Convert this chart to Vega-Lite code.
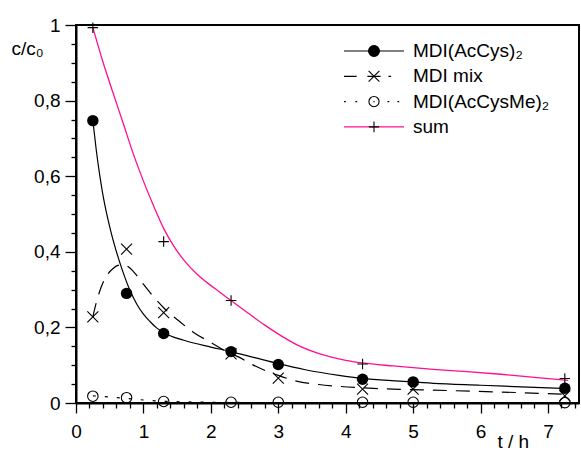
{
  "$schema": "https://vega.github.io/schema/vega-lite/v6.json",
  "width": 503,
  "height": 378,
  "autosize": {"type": "none"},
  "padding": {"left": 76, "top": 25, "right": 2, "bottom": 48},
  "background": "white",
  "config": {
    "view": {"stroke": "black", "strokeWidth": 2},
    "font": "Liberation Sans",
    "axis": {
      "domainColor": "black", "domainWidth": 2,
      "tickColor": "black", "tickWidth": 1.3,
      "labelFont": "Liberation Sans", "labelFontSize": 19, "labelColor": "black",
      "titleFont": "Liberation Sans", "titleFontSize": 19, "titleFontWeight": "normal", "titleColor": "black",
      "grid": false, "labelOverlap": false, "labelFlush": false
    },
    "legend": {
      "orient": "none", "legendX": 267, "legendY": 15,
      "symbolSize": 3600, "clipHeight": 22, "rowPadding": 3.3,
      "labelOffset": 8, "labelFont": "Liberation Sans", "labelFontSize": 19, "labelColor": "black",
      "padding": 0, "symbolStrokeWidth": 1.2, "labelLimit": 300
    }
  },
  "datasets": {
    "pts": [
      {"s": "A", "t": 0.25, "c": 0.747}, {"s": "A", "t": 0.75, "c": 0.290}, {"s": "A", "t": 1.3, "c": 0.184}, {"s": "A", "t": 2.3, "c": 0.136},
      {"s": "A", "t": 3.0, "c": 0.102}, {"s": "A", "t": 4.25, "c": 0.063}, {"s": "A", "t": 5.0, "c": 0.056}, {"s": "A", "t": 7.25, "c": 0.039},
      {"s": "M", "t": 0.25, "c": 0.228}, {"s": "M", "t": 0.75, "c": 0.407}, {"s": "M", "t": 1.3, "c": 0.239}, {"s": "M", "t": 2.3, "c": 0.130},
      {"s": "M", "t": 3.0, "c": 0.066}, {"s": "M", "t": 4.25, "c": 0.037}, {"s": "M", "t": 5.0, "c": 0.037}, {"s": "M", "t": 7.25, "c": 0.019},
      {"s": "E", "t": 0.25, "c": 0.018}, {"s": "E", "t": 0.75, "c": 0.014}, {"s": "E", "t": 1.3, "c": 0.004}, {"s": "E", "t": 2.3, "c": 0.002},
      {"s": "E", "t": 3.0, "c": 0.002}, {"s": "E", "t": 4.25, "c": 0.002}, {"s": "E", "t": 5.0, "c": 0.002}, {"s": "E", "t": 7.25, "c": 0.001},
      {"s": "S", "t": 0.25, "c": 0.993}, {"s": "S", "t": 1.3, "c": 0.427}, {"s": "S", "t": 2.3, "c": 0.271}, {"s": "S", "t": 4.25, "c": 0.103},
      {"s": "S", "t": 7.25, "c": 0.065}
    ],
    "fit": [
      {"s": "A", "t": 0.25, "c": 0.747}, {"s": "A", "t": 0.3, "c": 0.67}, {"s": "A", "t": 0.35, "c": 0.605}, {"s": "A", "t": 0.4, "c": 0.55},
      {"s": "A", "t": 0.5, "c": 0.466}, {"s": "A", "t": 0.6, "c": 0.40}, {"s": "A", "t": 0.7, "c": 0.345}, {"s": "A", "t": 0.8, "c": 0.298},
      {"s": "A", "t": 0.9, "c": 0.262}, {"s": "A", "t": 1.0, "c": 0.235}, {"s": "A", "t": 1.1, "c": 0.215}, {"s": "A", "t": 1.2, "c": 0.198},
      {"s": "A", "t": 1.3, "c": 0.186}, {"s": "A", "t": 1.6, "c": 0.166}, {"s": "A", "t": 2.0, "c": 0.148}, {"s": "A", "t": 2.3, "c": 0.136},
      {"s": "A", "t": 2.65, "c": 0.120}, {"s": "A", "t": 3.0, "c": 0.104}, {"s": "A", "t": 3.4, "c": 0.088}, {"s": "A", "t": 3.9, "c": 0.073},
      {"s": "A", "t": 4.25, "c": 0.065}, {"s": "A", "t": 4.8, "c": 0.058}, {"s": "A", "t": 5.3, "c": 0.052}, {"s": "A", "t": 6.0, "c": 0.047},
      {"s": "A", "t": 6.7, "c": 0.042}, {"s": "A", "t": 7.3, "c": 0.038},
      {"s": "M", "t": 0.25, "c": 0.228}, {"s": "M", "t": 0.3, "c": 0.265}, {"s": "M", "t": 0.35, "c": 0.295}, {"s": "M", "t": 0.4, "c": 0.318},
      {"s": "M", "t": 0.48, "c": 0.343}, {"s": "M", "t": 0.55, "c": 0.356}, {"s": "M", "t": 0.62, "c": 0.364}, {"s": "M", "t": 0.7, "c": 0.366},
      {"s": "M", "t": 0.78, "c": 0.360}, {"s": "M", "t": 0.875, "c": 0.343}, {"s": "M", "t": 1.0, "c": 0.314}, {"s": "M", "t": 1.15, "c": 0.281},
      {"s": "M", "t": 1.3, "c": 0.252}, {"s": "M", "t": 1.54, "c": 0.215}, {"s": "M", "t": 1.75, "c": 0.186}, {"s": "M", "t": 2.0, "c": 0.160},
      {"s": "M", "t": 2.2, "c": 0.139}, {"s": "M", "t": 2.43, "c": 0.120}, {"s": "M", "t": 2.6, "c": 0.103}, {"s": "M", "t": 2.78, "c": 0.088},
      {"s": "M", "t": 3.0, "c": 0.073}, {"s": "M", "t": 3.27, "c": 0.058}, {"s": "M", "t": 3.6, "c": 0.049}, {"s": "M", "t": 3.9, "c": 0.044},
      {"s": "M", "t": 4.25, "c": 0.040}, {"s": "M", "t": 4.8, "c": 0.036}, {"s": "M", "t": 5.3, "c": 0.034}, {"s": "M", "t": 6.3, "c": 0.029},
      {"s": "M", "t": 7.3, "c": 0.023},
      {"s": "E", "t": 0.25, "c": 0.019}, {"s": "E", "t": 0.5, "c": 0.016}, {"s": "E", "t": 0.75, "c": 0.012}, {"s": "E", "t": 1.0, "c": 0.008},
      {"s": "E", "t": 1.25, "c": 0.005}, {"s": "E", "t": 1.6, "c": 0.003}, {"s": "E", "t": 2.0, "c": 0.002}, {"s": "E", "t": 3.0, "c": 0.001},
      {"s": "E", "t": 4.0, "c": 0.0005}, {"s": "E", "t": 5.0, "c": 0.0003}, {"s": "E", "t": 7.3, "c": 0.0},
      {"s": "S", "t": 0.25, "c": 0.993}, {"s": "S", "t": 0.4, "c": 0.902}, {"s": "S", "t": 0.55, "c": 0.82}, {"s": "S", "t": 0.7, "c": 0.74},
      {"s": "S", "t": 0.85, "c": 0.659}, {"s": "S", "t": 1.0, "c": 0.587}, {"s": "S", "t": 1.15, "c": 0.522}, {"s": "S", "t": 1.3, "c": 0.462},
      {"s": "S", "t": 1.45, "c": 0.415}, {"s": "S", "t": 1.6, "c": 0.378}, {"s": "S", "t": 1.8, "c": 0.340}, {"s": "S", "t": 2.05, "c": 0.304},
      {"s": "S", "t": 2.3, "c": 0.271}, {"s": "S", "t": 2.55, "c": 0.238}, {"s": "S", "t": 2.8, "c": 0.206}, {"s": "S", "t": 3.05, "c": 0.177},
      {"s": "S", "t": 3.3, "c": 0.152}, {"s": "S", "t": 3.55, "c": 0.134}, {"s": "S", "t": 3.8, "c": 0.121}, {"s": "S", "t": 4.0, "c": 0.113},
      {"s": "S", "t": 4.25, "c": 0.106}, {"s": "S", "t": 4.7, "c": 0.098}, {"s": "S", "t": 5.3, "c": 0.089}, {"s": "S", "t": 5.8, "c": 0.083},
      {"s": "S", "t": 6.3, "c": 0.076}, {"s": "S", "t": 6.8, "c": 0.068}, {"s": "S", "t": 7.3, "c": 0.060}
    ]
  },
  "encoding": {
    "x": {
      "field": "t", "type": "quantitative",
      "scale": {"domain": [0, 7.46], "nice": false, "zero": false},
      "axis": {
        "title": "t / h", "titleAngle": 0, "titleAlign": "left", "titleBaseline": "alphabetic", "titleX": 421, "titleY": 44,
        "values": [0,0.2,0.4,0.6,0.8,1,1.2,1.4,1.6,1.8,2,2.2,2.4,2.6,2.8,3,3.2,3.4,3.6,3.8,4,4.2,4.4,4.6,4.8,5,5.2,5.4,5.6,5.8,6,6.2,6.4,6.6,6.8,7,7.2,7.4],
        "labelExpr": "abs(datum.value-round(datum.value))<0.001 ? format(datum.value,'d') : ''",
        "tickSize": {"condition": {"test": "abs(datum.value-round(datum.value))<0.001", "value": 10}, "value": 5},
        "labelPadding": 9
      }
    },
    "y": {
      "field": "c", "type": "quantitative",
      "scale": {"domain": [0, 1], "nice": false},
      "axis": {
        "title": "c/c₀", "titleAngle": 0, "titleAlign": "left", "titleBaseline": "alphabetic", "titleX": -65, "titleY": 29,
        "values": [0,0.05,0.1,0.15,0.2,0.25,0.3,0.35,0.4,0.45,0.5,0.55,0.6,0.65,0.7,0.75,0.8,0.85,0.9,0.95,1],
        "labelExpr": "abs(datum.value*5-round(datum.value*5))<0.001 ? replace(format(datum.value,'~g'),'.',',') : ''",
        "tickSize": {"condition": {"test": "abs(datum.value*5-round(datum.value*5))<0.001", "value": 11}, "value": 5},
        "labelPadding": 5
      }
    }
  },
  "layer": [
    {"data": {"name": "fit"}, "transform": [{"filter": "datum.s == 'E'"}],
     "mark": {"type": "line", "color": "black", "strokeWidth": 1.2, "strokeDash": [3, 9], "interpolate": "monotone"}},
    {"data": {"name": "fit"}, "transform": [{"filter": "datum.s == 'M'"}],
     "mark": {"type": "line", "color": "black", "strokeWidth": 1.2, "strokeDash": [14, 9], "interpolate": "monotone"}},
    {"data": {"name": "fit"}, "transform": [{"filter": "datum.s == 'A'"}],
     "mark": {"type": "line", "color": "black", "strokeWidth": 1.2, "interpolate": "monotone"}},
    {"data": {"name": "fit"}, "transform": [{"filter": "datum.s == 'S'"}],
     "mark": {"type": "line", "color": "#ff0f8f", "strokeWidth": 1.3, "interpolate": "monotone"}},
    {"data": {"name": "pts"}, "transform": [{"filter": "datum.s == 'M'"}],
     "mark": {"type": "point", "shape": "M-1,-1L1,1M-1,1L1,-1", "size": 121, "filled": false, "stroke": "black", "strokeWidth": 1.1, "opacity": 1}},
    {"data": {"name": "pts"}, "transform": [{"filter": "datum.s == 'E'"}],
     "mark": {"type": "point", "shape": "circle", "size": 110, "filled": false, "stroke": "black", "strokeWidth": 1.1, "opacity": 1}},
    {"data": {"name": "pts"}, "transform": [{"filter": "datum.s == 'A'"}],
     "mark": {"type": "point", "shape": "circle", "size": 130, "filled": true, "fill": "black", "opacity": 1}},
    {"data": {"name": "pts"}, "transform": [{"filter": "datum.s == 'S'"}],
     "mark": {"type": "point", "shape": "M-1,0L1,0M0,-1L0,1", "size": 110, "filled": false, "stroke": "black", "strokeWidth": 1.1, "opacity": 1}},
    {"data": {"name": "pts"}, "transform": [{"filter": "false"}],
     "mark": {"type": "point", "filled": false, "opacity": 1, "strokeWidth": 1.2},
     "encoding": {
       "shape": {"field": "name", "type": "nominal",
         "scale": {"domain": ["MDI(AcCys)₂", "MDI mix", "MDI(AcCysMe)₂", "sum"],
                   "range": ["M-1,0L1,0", "M-1,0L-0.58,0M-0.22,0L0.22,0M0.48,0L0.57,0", "M-1,0L-0.94,0M-0.62,0L-0.56,0M0.45,0L0.51,0M0.78,0L0.84,0", "M-1,0L1,0"]},
         "legend": {"title": null}},
       "stroke": {"field": "name", "type": "nominal",
         "scale": {"domain": ["MDI(AcCys)₂", "MDI mix", "MDI(AcCysMe)₂", "sum"], "range": ["black", "black", "black", "#ff0f8f"]},
         "legend": {"title": null}}
     }},
    {"data": {"name": "pts"}, "transform": [{"filter": "false"}],
     "mark": {"type": "point", "opacity": 1, "strokeWidth": 1.1},
     "encoding": {
       "shape": {"field": "name2", "type": "nominal",
         "scale": {"domain": ["MDI(AcCys)₂", "MDI mix", "MDI(AcCysMe)₂", "sum"],
                   "range": ["M0.18,0A0.18,0.18,0,1,1,-0.18,0A0.18,0.18,0,1,1,0.18,0Z", "M-0.18,-0.18L0.18,0.18M-0.18,0.18L0.18,-0.18", "M0.17,0A0.17,0.17,0,1,1,-0.17,0A0.17,0.17,0,1,1,0.17,0ZM-0.02,0L0.02,0", "M-0.17,0L0.17,0M0,-0.18L0,0.18"]},
         "legend": {"title": null, "labelOpacity": 0, "symbolStrokeWidth": 1.1}},
       "fill": {"field": "name2", "type": "nominal",
         "scale": {"domain": ["MDI(AcCys)₂", "MDI mix", "MDI(AcCysMe)₂", "sum"], "range": ["black", "transparent", "white", "transparent"]},
         "legend": {"title": null, "labelOpacity": 0, "symbolStrokeWidth": 1.1}},
       "stroke": {"field": "name2", "type": "nominal",
         "scale": {"domain": ["MDI(AcCys)₂", "MDI mix", "MDI(AcCysMe)₂", "sum"], "range": ["black", "black", "black", "black"]},
         "legend": {"title": null, "labelOpacity": 0, "symbolStrokeWidth": 1.1}}
     }}
  ],
  "resolve": {
    "scale": {"shape": "independent", "stroke": "independent", "fill": "independent"},
    "legend": {"shape": "independent", "stroke": "independent", "fill": "independent"}
  }
}
